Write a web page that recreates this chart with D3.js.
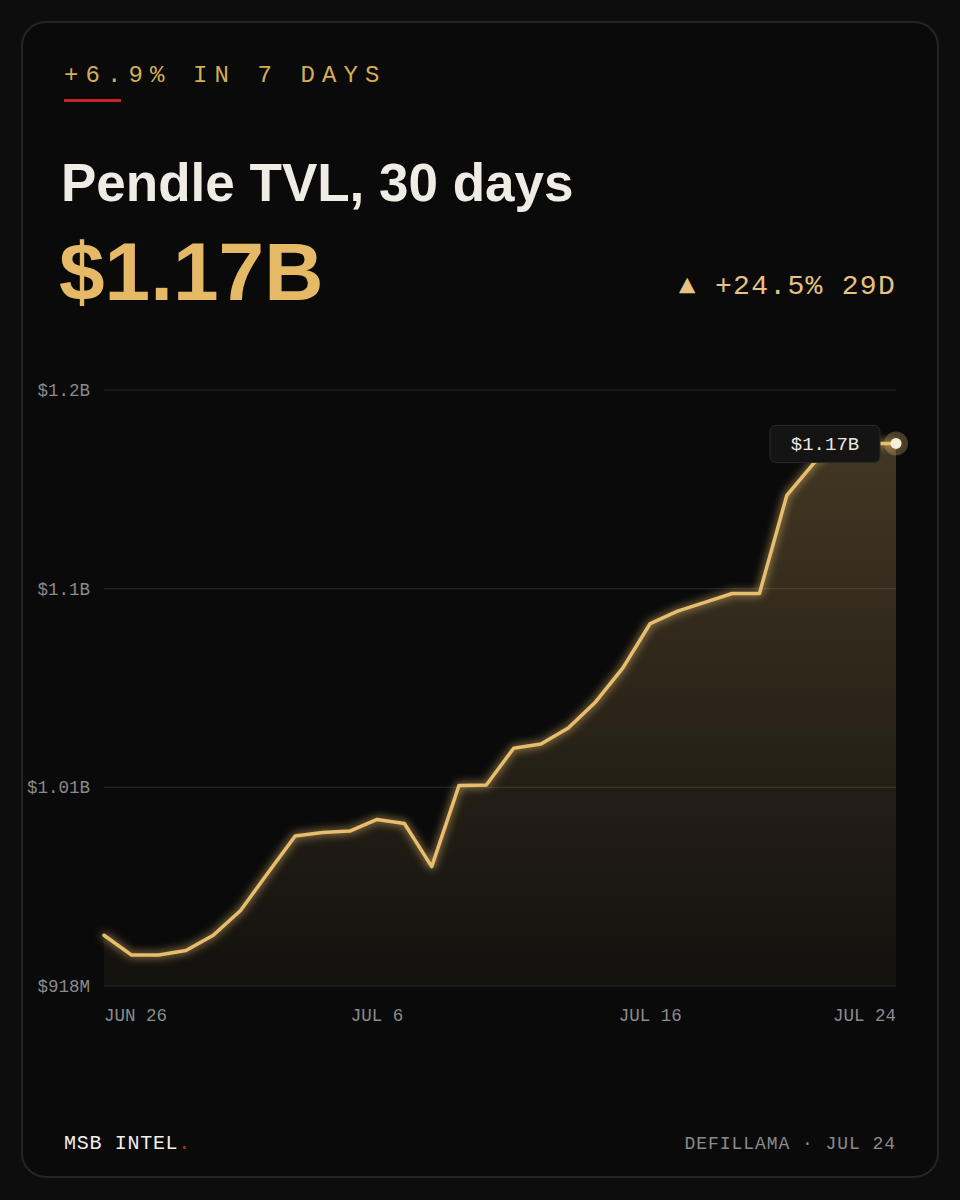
<!DOCTYPE html>
<html><head><meta charset="utf-8">
<script src="https://cdn.jsdelivr.net/npm/d3@7"></script>
<style>html,body{margin:0;padding:0;background:#0d0d0d;}svg{display:block}</style>
</head><body><div id="chart"></div>
<script>
const dates = ["Jun 26","Jun 27","Jun 28","Jun 29","Jun 30","Jul 1","Jul 2","Jul 3","Jul 4","Jul 5",
  "Jul 6","Jul 7","Jul 8","Jul 9","Jul 10","Jul 11","Jul 12","Jul 13","Jul 14","Jul 15",
  "Jul 16","Jul 17","Jul 18","Jul 19","Jul 20","Jul 21","Jul 22","Jul 23","Jul 24","Jul 24 live"];
const tvl = [0.942,0.9327,0.9327,0.9348,0.942,0.9537,0.9715,0.989,0.9906,0.9913,
  0.9968,0.9949,0.9745,1.0129,1.0131,1.0305,1.0325,1.0401,1.0524,1.0685,
  1.0895,1.0954,1.0995,1.1037,1.1037,1.1501,1.1655,1.1744,1.1747,1.1747];
const yTickValues = [0.918, 1.012, 1.106, 1.2];
const yTickLabels = ["$918M", "$1.01B", "$1.1B", "$1.2B"];
const xTickIndex = [0, 10, 20, 29];
const xTickLabels = ["JUN 26", "JUL 6", "JUL 16", "JUL 24"];
const kicker = "+6.9% IN 7 DAYS";
const title = "Pendle TVL, 30 days";
const bigValue = "$1.17B";
const delta = "▲ +24.5% 29D";
const tipLabel = "$1.17B";
const brand = "MSB INTEL";
const source = "DEFILLAMA · JUL 24";

const W = 960, H = 1200;
const mono = "'Liberation Mono', 'DejaVu Sans Mono', monospace";
const sans = "'Liberation Sans', Arial, sans-serif";
const gold = "#e8bd6e";

const svg = d3.select("#chart").append("svg").attr("width", W).attr("height", H);
const defs = svg.append("defs");

svg.append("rect").attr("width", W).attr("height", H).attr("fill", "#0d0d0d");
svg.append("rect").attr("x", 22).attr("y", 22).attr("width", 916).attr("height", 1155)
  .attr("rx", 24).attr("fill", "#0a0a0a").attr("stroke", "#252525").attr("stroke-width", 2);

// header
svg.append("text").attr("x", 64).attr("y", 82).text(kicker)
  .attr("font-family", mono).attr("font-size", 24).attr("letter-spacing", 7.1)
  .attr("fill", "#d4ae52");
svg.append("rect").attr("x", 64).attr("y", 99).attr("width", 57).attr("height", 3).attr("fill", "#c8232b");
svg.append("text").attr("x", 61).attr("y", 201).text(title)
  .attr("font-family", sans).attr("font-weight", 700).attr("font-size", 53).attr("fill", "#efece6");
svg.append("text").attr("x", 59).attr("y", 300).text(bigValue)
  .attr("font-family", sans).attr("font-weight", 700).attr("font-size", 82).attr("fill", "#e6b967");
svg.append("text").attr("x", 896).attr("y", 294).attr("text-anchor", "end").text(delta)
  .attr("font-family", mono).attr("font-size", 28).attr("letter-spacing", 1.3).attr("fill", "#e8c283");

// scales
const x = d3.scalePoint().domain(dates).range([104, 896]);
const y = d3.scaleLinear().domain([0.918, 1.2]).range([986, 390]);

// grid
const grid = svg.append("g");
yTickValues.forEach((v, i) => {
  grid.append("line").attr("x1", 104).attr("x2", 896).attr("y1", y(v)).attr("y2", y(v))
    .attr("stroke", "#242424").attr("stroke-width", 1.2);
  grid.append("text").attr("x", 90).attr("y", y(v) + 6).attr("text-anchor", "end")
    .text(yTickLabels[i]).attr("font-family", mono).attr("font-size", 17.5).attr("fill", "#8a8a8a");
});

// area
const grad = defs.append("linearGradient").attr("id", "ag").attr("x1", 0).attr("x2", 0).attr("y1", 0).attr("y2", 1);
grad.append("stop").attr("offset", "0%").attr("stop-color", gold).attr("stop-opacity", 0.25);
grad.append("stop").attr("offset", "100%").attr("stop-color", gold).attr("stop-opacity", 0.04);

const pts = tvl.map((v, i) => [dates[i], v]);
const area = d3.area().x(d => x(d[0])).y0(y(0.918)).y1(d => y(d[1]));
svg.append("path").datum(pts).attr("d", area).attr("fill", "url(#ag)");

const glow = defs.append("filter").attr("id", "glow").attr("x", "-10%").attr("y", "-10%").attr("width", "120%").attr("height", "120%");
glow.append("feGaussianBlur").attr("in", "SourceGraphic").attr("stdDeviation", 4).attr("result", "b");
const fm = glow.append("feMerge");
fm.append("feMergeNode").attr("in", "b");
fm.append("feMergeNode").attr("in", "SourceGraphic");

const line = d3.line().x(d => x(d[0])).y(d => y(d[1]));
svg.append("path").datum(pts).attr("d", line).attr("fill", "none")
  .attr("stroke", gold).attr("stroke-width", 3.5).attr("stroke-linejoin", "round").attr("stroke-linecap", "round")
  .attr("filter", "url(#glow)");

// x labels
xTickIndex.forEach((idx, i) => {
  const anchor = i === 0 ? "start" : (i === xTickIndex.length - 1 ? "end" : "middle");
  svg.append("text").attr("x", x(dates[idx])).attr("y", 1021).attr("text-anchor", anchor)
    .text(xTickLabels[i]).attr("font-family", mono).attr("font-size", 17.5).attr("fill", "#8c8c8c");
});

// endpoint + tooltip
const last = pts[pts.length - 1];
const ex = x(last[0]), ey = y(last[1]);
svg.append("circle").attr("cx", ex).attr("cy", ey).attr("r", 12).attr("fill", gold).attr("fill-opacity", 0.28);
svg.append("rect").attr("x", ex - 126).attr("y", ey - 18).attr("width", 110).attr("height", 37).attr("rx", 6)
  .attr("fill", "#141414").attr("stroke", "#2a2a2a").attr("stroke-width", 1);
svg.append("text").attr("x", ex - 71).attr("y", ey + 7).attr("text-anchor", "middle").text(tipLabel)
  .attr("font-family", mono).attr("font-size", 19).attr("fill", "#ece8e0");
svg.append("circle").attr("cx", ex).attr("cy", ey).attr("r", 5.5).attr("fill", "#f6eedc");

// footer
const ft = svg.append("text").attr("x", 64).attr("y", 1149).attr("font-family", mono).attr("font-size", 20).attr("letter-spacing", 0.7);
ft.append("tspan").attr("fill", "#f2f0ea").text(brand);
ft.append("tspan").attr("fill", "#c8232b").text(".");
svg.append("text").attr("x", 896).attr("y", 1149).attr("text-anchor", "end").text(source)
  .attr("font-family", mono).attr("font-size", 18).attr("letter-spacing", 0.95).attr("fill", "#8a8a8a");
</script></body></html>
